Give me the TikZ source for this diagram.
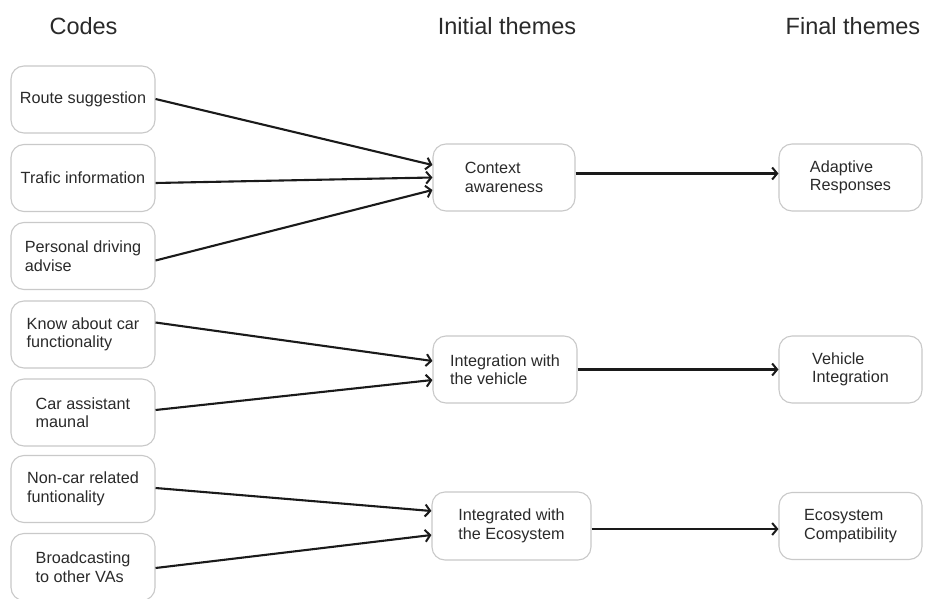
\documentclass[tikz,border=0pt]{standalone}
\usepackage{fontspec}
\setmainfont{Liberation Sans}
\usetikzlibrary{arrows.meta}
\definecolor{ink}{HTML}{2A2A2A}
\definecolor{frame}{HTML}{C9C9C9}
\definecolor{wire}{HTML}{1A1A1A}
\begin{document}
\begin{tikzpicture}[x=1pt,y=-1pt,
  card/.style={draw=frame, line width=1.1pt, rounded corners=13pt, fill=white,
    align=left, text=ink, inner sep=0pt,
    font=\fontsize{16.2}{18.5}\selectfont},
  codebox/.style={card, minimum width=144pt, minimum height=67pt},
  head/.style={text=ink, anchor=base, inner sep=0pt, font=\fontsize{23.5}{27}\selectfont},
  conn/.style={draw=wire, line width=2.1pt, -{Straight Barb[length=5pt,width=12pt,line width=2pt]}}]
\useasboundingbox[fill=white] (0,0) rectangle (928,599);

% column headings
\node[head] (hc) at (83.5,34.5) {Codes};
\node[head] (hi) at (507,34.5) {Initial themes};
\node[head] (hf) at (853,34.5) {Final themes};

% codes
\node[codebox] (r1) at (83,99.5) {Route suggestion};
\node[codebox] (r2) at (83,178) {Trafic information};
\node[codebox] (r3) at (83,256) {Personal driving\\advise};
\node[codebox] (r4) at (83,334.5) {Know about car\\functionality};
\node[codebox] (r5) at (83,412.5) {Car assistant\\maunal};
\node[codebox] (r6) at (83,489) {Non-car related\\funtionality};
\node[codebox] (r7) at (83,567) {Broadcasting\\to other VAs};

% initial themes
\node[card, minimum width=142pt, minimum height=67pt] (m1) at (504,177.5) {Context\\awareness};
\node[card, minimum width=144pt, minimum height=67pt] (m2) at (505,369.5) {Integration with\\the vehicle};
\node[card, minimum width=159pt, minimum height=68pt] (m3) at (511.5,526) {Integrated with\\the Ecosystem};

% final themes
\node[card, minimum width=143pt, minimum height=67pt] (f1) at (850.5,177.5) {Adaptive\\Responses};
\node[card, minimum width=143pt, minimum height=67pt] (f2) at (850.5,369.5) {Vehicle\\Integration};
\node[card, minimum width=143pt, minimum height=67pt] (f3) at (850.5,526) {Ecosystem\\Compatibility};

% codes -> initial themes
\draw[conn] ([yshift=0.5pt]r1.east) -- ([yshift=12.5pt]m1.west);
\draw[conn] ([yshift=-5pt]r2.east) -- (m1.west);
\draw[conn] ([yshift=-4.5pt]r3.east) -- ([yshift=-12.5pt]m1.west);
\draw[conn] ([yshift=12pt]r4.east) -- ([yshift=8.5pt]m2.west);
\draw[conn] ([yshift=2.5pt]r5.east) -- ([yshift=-10.5pt]m2.west);
\draw[conn] ([yshift=1pt]r6.east) -- ([yshift=15pt]m3.west);
\draw[conn] ([yshift=-1pt]r7.east) -- ([yshift=-9pt]m3.west);

% initial themes -> final themes
\draw[conn] ([yshift=4pt]m1.east) -- ([yshift=4pt]f1.west);
\draw[conn] (m2.east) -- (f2.west);
\draw[conn] ([yshift=-3pt]m3.east) -- ([yshift=-3pt]f3.west);
\end{tikzpicture}
\end{document}
